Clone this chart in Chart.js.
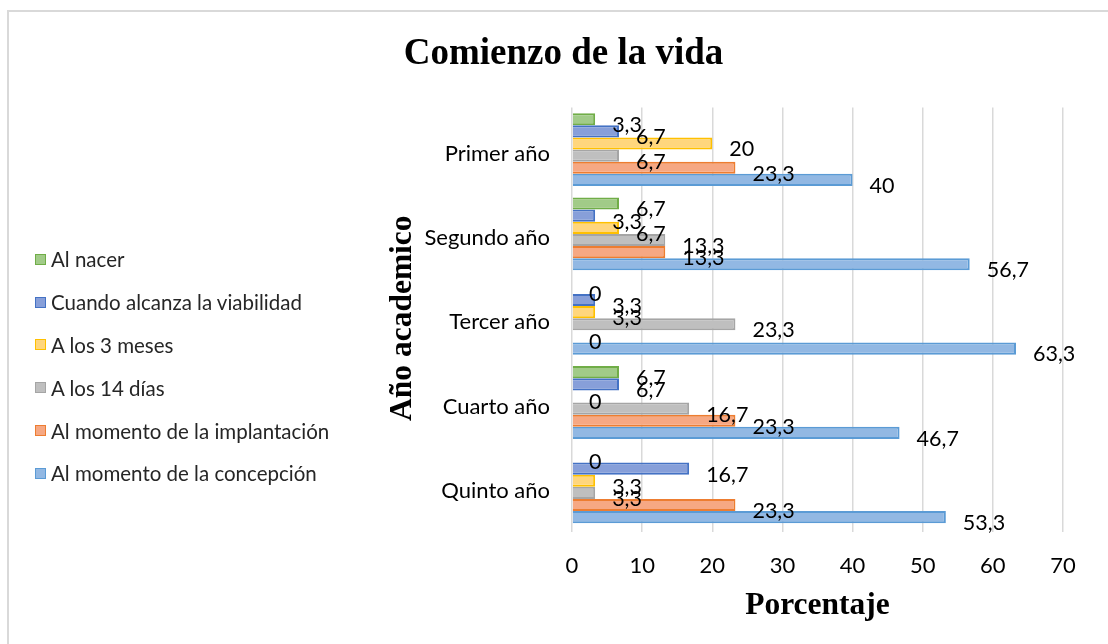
<!DOCTYPE html>
<html lang="es">
<head>
<meta charset="utf-8">
<title>Comienzo de la vida</title>
<script src="https://cdn.jsdelivr.net/npm/chart.js@4.4.1/dist/chart.umd.min.js"></script>
<style>
  html, body { margin: 0; padding: 0; background: #fff; overflow: hidden; }
  #wrap { position: relative; width: 1108px; height: 644px; }
  #frame { position: absolute; left: 7px; top: 10px; width: 1200px; height: 700px;
           border: 2px solid #d9d9d9; pointer-events: none; }
  #legend { position: absolute; left: 35px; top: 238px; margin: 0; padding: 0; list-style: none;
            font-family: Lato, sans-serif; font-size: 20.5px; color: #262626; }
  #legend li { height: 42.8px; display: flex; align-items: center; white-space: nowrap; }
  #legend span.box { display: inline-block; width: 9px; height: 9px; margin-right: 5px; }
</style>
</head>
<body>
<div id="wrap">
  <canvas id="vidaChart" width="1108" height="644"></canvas>
  <ul id="legend"></ul>
  <div id="frame"></div>
</div>
<script>
const years = ['Primer año', 'Segundo año', 'Tercer año', 'Cuarto año', 'Quinto año'];

// porcentajes por año, una lista por respuesta
const alNacer      = [3.3, 6.7, 0, 6.7, 0];
const viabilidad   = [6.7, 3.3, 3.3, 6.7, 16.7];
const tresMeses    = [20, 6.7, 3.3, 0, 3.3];
const catorceDias  = [6.7, 13.3, 23.3, 16.7, 3.3];
const implantacion = [23.3, 13.3, 0, 23.3, 23.3];
const concepcion   = [40, 56.7, 63.3, 46.7, 53.3];

const xTicks = [0, 10, 20, 30, 40, 50, 60, 70];

const PLOT_LEFT = 572;
const PAD_LEFT = 64;

// etiquetas de valor al final de cada barra, con coma decimal
const valueLabels = {
    id: 'valueLabels',
    afterDatasetsDraw(chart) {
        const ctx = chart.ctx;
        ctx.save();
        ctx.font = '21.5px Lato';
        ctx.fillStyle = '#000';
        ctx.textAlign = 'left';
        ctx.textBaseline = 'middle';
        chart.data.datasets.forEach((ds, i) => {
            chart.getDatasetMeta(i).data.forEach((bar, j) => {
                const txt = String(ds.data[j]).replace('.', ',');
                ctx.fillText(txt, bar.x + 17, bar.y + 6);
            });
        });
        ctx.restore();
    }
};

const serif = '"Liberation Serif", "Times New Roman", serif';
const ctx = document.getElementById('vidaChart').getContext('2d');

const chart = new Chart(ctx, {
    type: 'bar',
    data: {
        labels: years,
        datasets: [
            { label: 'Al nacer', data: alNacer, backgroundColor: '#a1cb88', borderColor: '#70ad47' },
            { label: 'Cuando alcanza la viabilidad', data: viabilidad, backgroundColor: '#879fd9', borderColor: '#4472c4' },
            { label: 'A los 3 meses', data: tresMeses, backgroundColor: '#ffd67d', borderColor: '#ffc000' },
            { label: 'A los 14 días', data: catorceDias, backgroundColor: '#bfbfbf', borderColor: '#a5a5a5' },
            { label: 'Al momento de la implantación', data: implantacion, backgroundColor: '#f6a883', borderColor: '#ed7d31' },
            { label: 'Al momento de la concepción', data: concepcion, backgroundColor: '#92b8e3', borderColor: '#5b9bd5' }
        ]
    },
    options: {
        indexAxis: 'y',
        responsive: false,
        animation: false,
        datasets: {
            bar: {
                borderWidth: 2,
                borderSkipped: 'start',
                barPercentage: 1,
                categoryPercentage: 0.864
            }
        },
        layout: {
            padding: { left: PAD_LEFT, right: 45, top: 10, bottom: 18 }
        },
        plugins: {
            title: {
                display: true,
                text: 'Comienzo de la vida',
                color: '#000',
                font: { family: serif, size: 37, weight: 'bold' },
                padding: { top: 22, bottom: 31 }
            },
            legend: { display: false },
            tooltip: { enabled: false }
        },
        scales: {
            x: {
                min: 0,
                max: 70,
                afterBuildTicks: (scale) => {
                    scale.ticks = xTicks.map(v => ({ value: v }));
                },
                afterFit: (scale) => {
                    scale.height = 97;
                },
                grid: { color: '#d9d9d9', lineWidth: 1.5, tickLength: 3 },
                border: { display: false },
                ticks: {
                    padding: 21,
                    color: '#000',
                    font: { family: 'Lato', size: 22 }
                },
                title: {
                    display: true,
                    text: 'Porcentaje',
                    color: '#000',
                    font: { family: serif, size: 31.5, weight: 'bold' },
                    padding: { top: 12, bottom: 1 }
                }
            },
            y: {
                grid: { display: false },
                border: { display: false },
                afterFit: (scale) => {
                    scale.width = PLOT_LEFT - PAD_LEFT;
                },
                ticks: {
                    padding: 14,
                    labelOffset: 4,
                    color: '#000',
                    font: { family: 'Lato', size: 22 }
                },
                title: {
                    display: true,
                    text: 'Año academico',
                    color: '#000',
                    font: { family: serif, size: 31.5, weight: 'bold' },
                    padding: { top: 320, bottom: 0 }
                }
            }
        }
    },
    plugins: [valueLabels]
});

// leyenda a la izquierda, armada con los datasets del gráfico
const legendEl = document.getElementById('legend');
chart.data.datasets.forEach(ds => {
    const li = document.createElement('li');
    li.innerHTML = `<span class="box" style="background:${ds.backgroundColor};border:1.5px solid ${ds.borderColor}"></span>${ds.label}`;
    legendEl.appendChild(li);
});
</script>
</body>
</html>
